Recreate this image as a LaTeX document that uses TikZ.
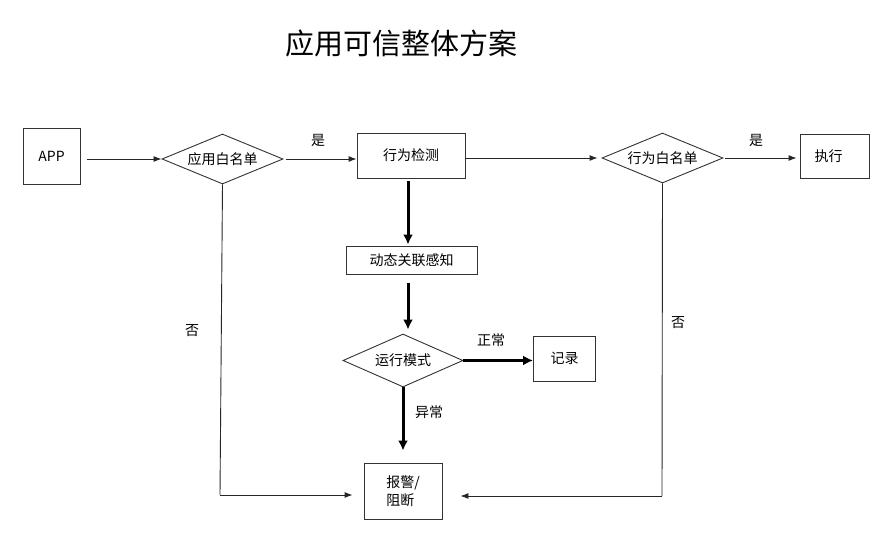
\documentclass[tikz,border=0pt]{standalone}
\usepackage{fontspec}
\setmainfont{Noto Sans CJK SC}
\usetikzlibrary{shapes.geometric,arrows.meta}
\tikzset{
  box/.style={draw=black!80,line width=0.9pt,inner sep=0pt,font=\fontsize{14}{18}\selectfont},
  decide/.style={diamond,draw=black!80,line width=0.9pt,inner sep=0pt,shape aspect=2.4,font=\fontsize{14}{18}\selectfont},
  thin arrow/.style={draw=black!85,line width=0.9pt,-{Latex[length=8pt,width=6pt]}},
  thick arrow/.style={draw=black,line width=3pt,-{Latex[length=10pt,width=10pt]}},
  lbl/.style={font=\fontsize{14}{18}\selectfont}
}
\begin{document}
\begin{tikzpicture}[x=1pt,y=-1pt]
  \useasboundingbox[fill=white] (0,0) rectangle (892,534);
  \node[font=\fontsize{29}{34}\selectfont] (title) at (401,43) {应用可信整体方案};
  \node[box,minimum width=57pt,minimum height=56pt] (app) at (51.5,156) {APP};
  \node[decide,minimum width=121pt,minimum height=50pt] (appwl) at (222.5,159) {应用白名单};
  \node[box,minimum width=108pt,minimum height=45pt] (detect) at (411,155.5) {行为检测};
  \node[decide,minimum width=121pt,minimum height=50pt] (actwl) at (662.5,158) {行为白名单};
  \node[box,minimum width=69pt,minimum height=44pt] (exec) at (834.5,156) {\hspace*{-12pt}执行};
  \node[box,minimum width=131pt,minimum height=28pt] (sense) at (411.5,260) {动态关联感知};
  \node[decide,minimum width=120pt,minimum height=53pt] (mode) at (403,360.5) {运行模式};
  \node[box,minimum width=62pt,minimum height=45pt] (log) at (564.5,358.5) {记录};
  \node[box,minimum width=78pt,minimum height=56pt,align=left] (alarm) at (403,491) {报警/\\阻断};
  \coordinate (leftcorner) at (220,495);
  \coordinate (rightcorner) at (662,496);
  \node[lbl] (yes1) at (318,140) {是};
  \node[lbl] (yes2) at (756,140) {是};
  \node[lbl] (no1) at (192,331) {否};
  \node[lbl] (no2) at (678,323) {否};
  \node[lbl] (normal) at (491,340) {正常};
  \node[lbl] (abnormal) at (429,412) {异常};
  \begin{scope}
    \draw[thin arrow,shorten <=7pt] (app.east |- appwl) -- (appwl);
    \draw[thin arrow,shorten <=3pt] (appwl) -- (detect.west |- appwl);
    \draw[thin arrow,shorten >=4pt] (detect.east |- actwl) -- (actwl);
    \draw[thin arrow,shorten <=2pt,shorten >=3pt] (actwl) -- (exec.west |- actwl);
    \draw[thick arrow,shorten <=3pt,shorten >=1pt] ([xshift=-3.5pt]sense.north |- detect.south) -- ([xshift=-3.5pt]sense.north);
    \draw[thick arrow,shorten <=9pt,shorten >=4pt] ([xshift=-3.5pt]sense.south) -- ([xshift=-3.5pt]sense.south |- mode.north);
    \draw[thick arrow] (mode.east) -- (log.west |- mode);
    \draw[thick arrow,shorten >=12pt] (mode.south) -- (alarm.north);
    \draw[thin arrow,-] (appwl.south) -- (leftcorner);
    \draw[thin arrow,shorten >=11pt] (leftcorner) -- (alarm.west |- leftcorner);
    \draw[thin arrow,-] (actwl.south) -- (rightcorner);
    \draw[thin arrow,shorten >=18pt] (rightcorner) -- (alarm.east |- rightcorner);
  \end{scope}
\end{tikzpicture}
\end{document}
